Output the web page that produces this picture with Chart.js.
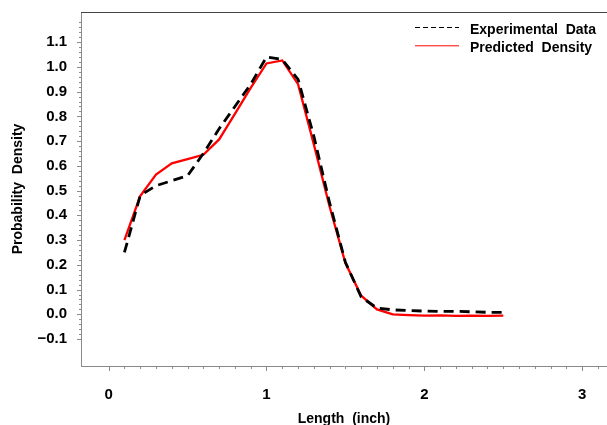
<!DOCTYPE html>
<html>
<head>
<meta charset="utf-8">
<script src="https://cdn.jsdelivr.net/npm/chart.js@4/dist/chart.umd.min.js"></script>
<style>
  html, body { margin: 0; padding: 0; background: #fff; overflow: hidden; }
  #wrap { width: 607px; height: 425px; }
  canvas { display: block; }
</style>
</head>
<body>
<div id="wrap"><canvas id="densityChart" width="607" height="425"></canvas></div>
<script>
// Length values (inch) where both curves are sampled
const lengths = [0.1, 0.2, 0.3, 0.4, 0.5, 0.6, 0.7, 0.8, 0.9, 1.0, 1.1, 1.2, 1.3,
                 1.4, 1.5, 1.6, 1.7, 1.8, 1.9, 2.0, 2.1, 2.2, 2.3, 2.4, 2.5];

// Experimental data (dashed black)
const experimental = [0.25, 0.48, 0.52, 0.54, 0.56, 0.65, 0.75, 0.84, 0.93, 1.04, 1.03, 0.95, 0.72,
                      0.45, 0.21, 0.07, 0.025, 0.018, 0.015, 0.013, 0.012, 0.012, 0.010, 0.008, 0.008];

// Predicted density (solid red)
const predicted = [0.30, 0.478, 0.565, 0.61, 0.627, 0.645, 0.707, 0.81, 0.915, 1.014, 1.026, 0.93, 0.687,
                   0.435, 0.207, 0.075, 0.02, 0.0, -0.003, -0.005, -0.004, -0.006, -0.005, -0.006, -0.005];

const xTickValues = [0, 1, 2, 3];
const yTickValues = [-0.1, 0.0, 0.1, 0.2, 0.3, 0.4, 0.5, 0.6, 0.7, 0.8, 0.9, 1.0, 1.1];

const FONT = { family: "'Liberation Sans', Arial, sans-serif", size: 14, weight: 'bold' };
const TICK_FONT = { family: "'Liberation Sans', Arial, sans-serif", size: 15, weight: 'bold' };
const AXIS_GREY = '#8a8a8a';

// minor/major tick marks on both axes, plus the top frame line
const tickMarks = {
    id: 'tickMarks',
    afterDraw(chart) {
        const ctx = chart.ctx;
        const area = chart.chartArea;
        const xs = chart.scales.x, ys = chart.scales.y;
        ctx.save();
        ctx.lineWidth = 1;
        ctx.strokeStyle = AXIS_GREY;
        // y ticks every 0.02, major every 0.1
        for (let i = -5; i <= 59; i++) {
            const py = Math.round(ys.getPixelForValue(i * 0.02)) + 0.5;
            const len = (i % 5 === 0) ? 4 : 2;
            ctx.beginPath();
            ctx.moveTo(area.left - len, py);
            ctx.lineTo(area.left, py);
            ctx.stroke();
        }
        // x ticks every 0.1, major every 1
        for (let i = 0; i <= 31; i++) {
            const px = Math.round(xs.getPixelForValue(i * 0.1)) + 0.5;
            const len = (i % 10 === 0) ? 5 : 3;
            ctx.beginPath();
            ctx.moveTo(px, area.bottom);
            ctx.lineTo(px, area.bottom + len);
            ctx.stroke();
        }
        // top frame
        ctx.strokeStyle = '#444';
        ctx.beginPath();
        ctx.moveTo(area.left, area.top + 0.5);
        ctx.lineTo(area.right, area.top + 0.5);
        ctx.stroke();
        ctx.restore();
    }
};

// legend in the upper right corner
const cornerLegend = {
    id: 'cornerLegend',
    afterDraw(chart) {
        const ctx = chart.ctx;
        ctx.save();
        ctx.font = `bold ${FONT.size}px ${FONT.family}`;
        ctx.fillStyle = '#000';
        ctx.textBaseline = 'alphabetic';
        chart.data.datasets.forEach((ds, i) => {
            const lineY = 27.5 + i * 18.3;
            ctx.strokeStyle = ds.borderColor;
            ctx.lineWidth = 1;
            ctx.setLineDash(ds.borderDash && ds.borderDash.length ? [5, 3] : []);
            ctx.beginPath();
            ctx.moveTo(415, lineY);
            ctx.lineTo(459, lineY);
            ctx.stroke();
            ctx.setLineDash([]);
            ctx.fillText(ds.label, 470, 34 + i * 17.5);
        });
        ctx.restore();
    }
};

const ctx = document.getElementById('densityChart').getContext('2d');
new Chart(ctx, {
    type: 'line',
    data: {
        datasets: [{
            label: 'Experimental  Data',
            data: lengths.map((x, i) => ({ x: x, y: experimental[i] })),
            borderColor: '#000',
            borderWidth: 2.8,
            borderDash: [10, 6],
            pointRadius: 0,
            tension: 0,
            fill: false
        }, {
            label: 'Predicted  Density',
            data: lengths.map((x, i) => ({ x: x, y: predicted[i] })),
            borderColor: '#ff0000',
            borderWidth: 2.3,
            pointRadius: 0,
            tension: 0,
            fill: false
        }]
    },
    options: {
        responsive: false,
        animation: false,
        layout: { padding: { top: 12, right: 0, left: 0, bottom: 0 } },
        plugins: {
            legend: { display: false },
            tooltip: { enabled: false }
        },
        scales: {
            x: {
                type: 'linear',
                min: -0.175,
                max: 3.157,
                afterBuildTicks: scale => { scale.ticks = xTickValues.map(v => ({ value: v })); },
                afterFit: scale => {
                    scale.height = 59;
                    scale.paddingLeft = 0;
                    scale.paddingRight = 0;
                },
                grid: { display: false },
                border: { display: true, color: AXIS_GREY, width: 1 },
                ticks: {
                    padding: 12,
                    color: '#000',
                    font: TICK_FONT,
                    maxRotation: 0,
                    callback: v => String(v)
                },
                title: {
                    display: true,
                    text: 'Length  (inch)',
                    color: '#000',
                    font: FONT,
                    padding: { top: 0, bottom: -3 }
                }
            },
            y: {
                min: -0.209,
                max: 1.222,
                afterBuildTicks: scale => { scale.ticks = yTickValues.map(v => ({ value: v })); },
                afterFit: scale => {
                    scale.width = 81;
                    scale.paddingTop = 0;
                    scale.paddingBottom = 0;
                },
                grid: { display: false },
                border: { display: true, color: AXIS_GREY, width: 1 },
                ticks: {
                    padding: 6,
                    color: '#000',
                    font: TICK_FONT,
                    callback: v => (v < 0 ? '\u2212' + Math.abs(v).toFixed(1) : v.toFixed(1))
                },
                title: {
                    display: true,
                    text: 'Probability  Density',
                    color: '#000',
                    font: FONT,
                    padding: { top: 10, bottom: 0 }
                }
            }
        }
    },
    plugins: [tickMarks, cornerLegend]
});
</script>
</body>
</html>
